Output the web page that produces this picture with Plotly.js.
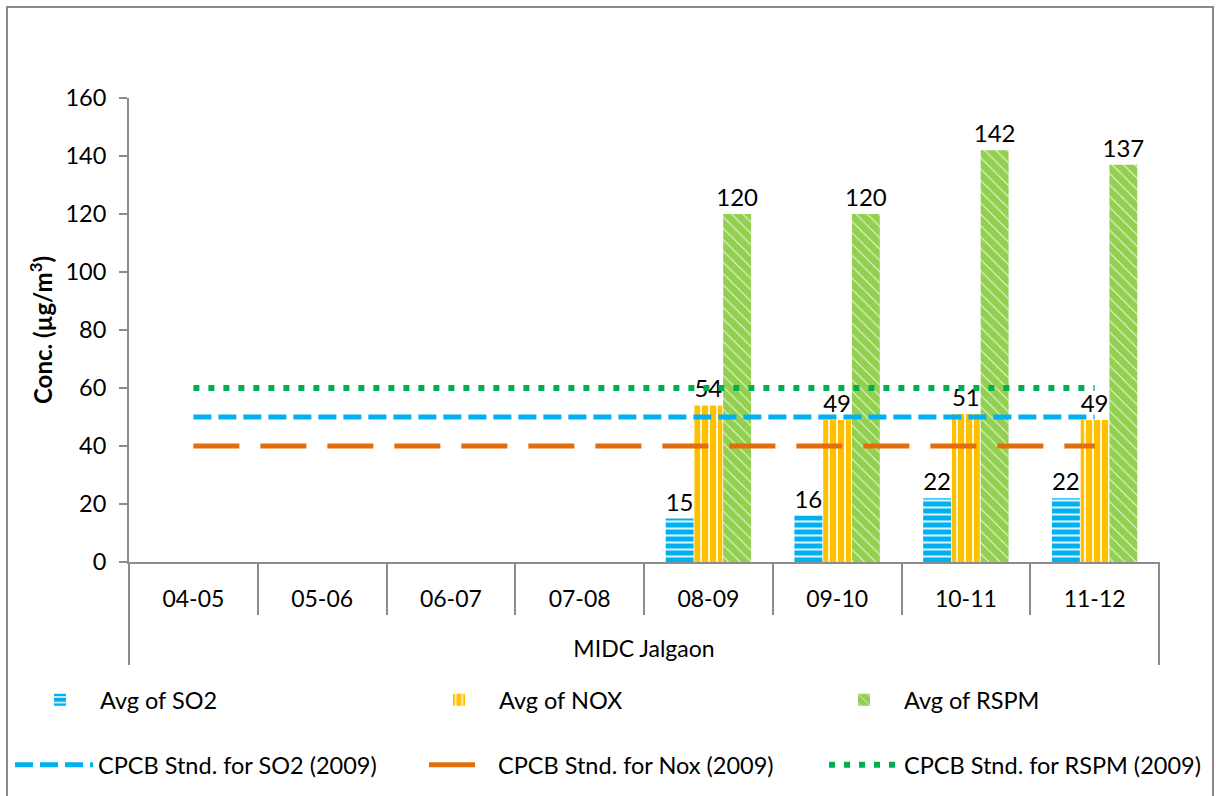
<!DOCTYPE html>
<html>
<head>
<meta charset="utf-8">
<script src="https://cdn.plot.ly/plotly-3.0.1.min.js"></script>
<style>html,body{margin:0;padding:0;background:#fff;}#chart{width:1216px;height:796px;}</style>
</head>
<body>
<div id="chart"></div>
<script>
const station = "MIDC Jalgaon";
const years = ["04-05","05-06","06-07","07-08","08-09","09-10","10-11","11-12"];
const so2Avg = [null,null,null,null,15,16,22,22];
const noxAvg = [null,null,null,null,54,49,51,49];
const rspmAvg = [null,null,null,null,120,120,142,137];
const so2Std = [50,50,50,50,50,50,50,50];
const noxStd = [40,40,40,40,40,40,40,40];
const rspmStd = [60,60,60,60,60,60,60,60];

const FONT = "Lato, 'Open Sans', sans-serif";
const lbl = a => a.map(v => v == null ? "" : String(v));

function bar(name, y, color, shape, size, solidity, legend) {
  return {
    type: "bar", name, x: years, y, legend, showlegend: true,
    text: lbl(y), textposition: "outside", cliponaxis: false, constraintext: "none",
    textfont: {family: FONT, size: 24, color: "#000"},
    marker: {color, line: {width: 0},
      pattern: {shape, fillmode: "overlay", fgcolor: "#ffffff", fgopacity: 0.85, size, solidity}},
    hoverinfo: "skip"
  };
}
function line(name, y, color, width, dash, legend) {
  return {type: "scatter", mode: "lines", name, x: years, y, legend, showlegend: true,
    line: {color, width, dash}, hoverinfo: "skip"};
}

const traces = [
  bar("Avg of SO2", so2Avg, "#00b0f0", "-", 7, 0.3, "legend"),
  bar("Avg of NOX", noxAvg, "#ffc000", "|", 8, 0.25, "legend2"),
  bar("Avg of RSPM", rspmAvg, "#92d050", "\\", 8, 0.12, "legend3"),
  line("CPCB Stnd. for SO2 (2009)", so2Std, "#00b0f0", 5, "18px,7px", "legend4"),
  line("CPCB Stnd. for Nox (2009)", noxStd, "#e46c0a", 5, "46px,21px", "legend5"),
  line("CPCB Stnd. for RSPM (2009)", rspmStd, "#00b050", 6, "6px,9px", "legend6")
];

const PL = 129, PR = 1159, PT = 98, PB = 562;
const W = PR - PL, H = PB - PT;
const px = v => (v - PL) / W;
const py = v => (PB - v) / H;
function leg(x, y, iw) {
  return {x: px(x), y: py(y), xanchor: "left", yanchor: "middle", orientation: "h",
    bgcolor: "rgba(0,0,0,0)", itemwidth: iw, font: {family: FONT, size: 23.5, color: "#000"}};
}
const AX = "#8c8c8c";

const layout = {
  width: 1216, height: 796, autosize: false, showlegend: true,
  margin: {l: PL, r: 1216 - PR, t: PT, b: 796 - PB, pad: 0, autoexpand: false},
  paper_bgcolor: "#fff", plot_bgcolor: "#fff",
  font: {family: FONT, size: 23, color: "#000"},
  barmode: "group", bargap: 0.33, bargroupgap: 0.03,
  xaxis: {
    type: "category", automargin: false, showline: true, linecolor: AX, linewidth: 2,
    tickson: "boundaries", ticks: "outside", ticklen: 51, tickcolor: AX, tickwidth: 2,
    ticklabelstandoff: 15,
    tickfont: {family: FONT, size: 23, color: "#000"},
    showgrid: false, zeroline: false,
    title: {text: station, font: {family: FONT, size: 23, color: "#000"}, standoff: 30}
  },
  yaxis: {
    range: [0, 160], dtick: 20, automargin: false, showline: true, linecolor: AX, linewidth: 2,
    ticks: "outside", ticklen: 8, tickcolor: AX, tickwidth: 2,
    ticklabelstandoff: 8,
    showgrid: false, zeroline: false,
    tickfont: {family: FONT, size: 23.5, color: "#000"},
    title: {text: "<b>Conc. (µg/m<sup>3</sup>)</b>", font: {family: FONT, size: 24, color: "#000"}, standoff: 6}
  },
  legend: leg(20, 700, 70),
  legend2: leg(419, 700, 70),
  legend3: leg(824, 700, 70),
  legend4: leg(10, 765, 78),
  legend5: leg(424, 765, 64),
  legend6: leg(824, 765, 70),
  shapes: [
    {type: "rect", xref: "paper", yref: "paper",
      x0: px(7), x1: px(1213), y0: py(810), y1: py(7),
      line: {color: "#898989", width: 2}, fillcolor: "rgba(0,0,0,0)", layer: "below"},
    {type: "line", xref: "paper", yref: "paper", x0: 0, x1: 0, y0: 0, y1: py(665),
      line: {color: AX, width: 2}},
    {type: "line", xref: "paper", yref: "paper", x0: 1, x1: 1, y0: 0, y1: py(665),
      line: {color: AX, width: 2}}
  ]
};

Plotly.newPlot("chart", traces, layout, {staticPlot: true, displayModeBar: false});
</script>
</body>
</html>
